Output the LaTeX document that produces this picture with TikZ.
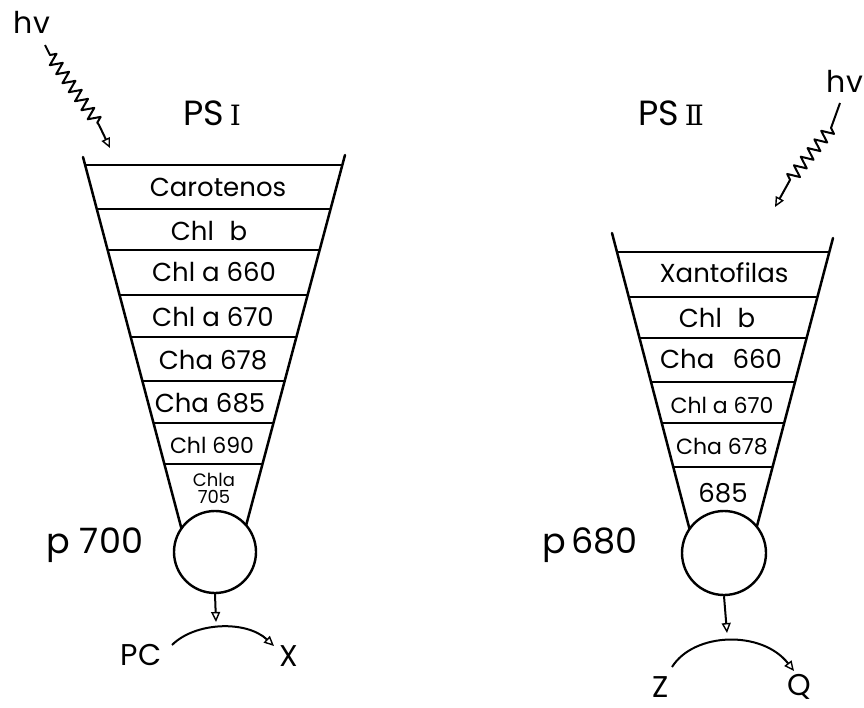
\documentclass[tikz,border=0pt]{standalone}
\usepackage{fontspec}
\setmainfont{Poppins}
\newfontfamily\romf{DejaVu Serif}
\usetikzlibrary{arrows.meta,decorations.pathmorphing}
\begin{document}
\begin{tikzpicture}[x=1pt,y=-1pt,
  lbl/.style={inner sep=0pt, font=\fontsize{26}{28}\selectfont},
  sml/.style={inner sep=0pt, font=\fontsize{22}{24}\selectfont},
  big/.style={inner sep=0pt, font=\fontsize{35}{38}\selectfont},
  side/.style={line width=2.5pt, line cap=round},
  rung/.style={line width=2.8pt},
  tipline/.style={-{Triangle[open,length=10pt,width=9pt,line width=1.4pt]}, line width=2pt, line join=round},
  wave/.style={decoration={zigzag,segment length=11pt,amplitude=6pt}},
  ring/.style={circle, draw, fill=white, line width=2.4pt, inner sep=0pt}
]
\useasboundingbox (0,0) rectangle (864,707);

% ---------------- PS I ----------------
\node[big, anchor=base] (hvA) at (32,33) {\fontsize{30}{32}\selectfont hv};
\coordinate (wA0) at (45,45);
\coordinate (wA1) at (50,55);
\coordinate (wA2) at (99,125);
\coordinate (wA3) at (110,148);
\draw[tipline] (wA0) -- (wA1) decorate[wave]{-- (wA2)} -- (wA3);

\node[big] (psI) at (212,113) {PS\,{\romf\fontsize{28}{30}\selectfont Ⅰ}};

% funnel sides
\draw[side] (83,157) -- (184.5,540);
\draw[side] (345,155) -- (242.2,540);
\foreach \y in {165,209,250,295,337,381,423,464}{
  \pgfmathsetmacro\xl{83+0.265*(\y-157)}
  \pgfmathsetmacro\xr{345-0.267*(\y-155)}
  \draw[rung] (\xl,\y) -- (\xr,\y);
}
\node[lbl] (a1) at (218,187) {Carotenos};
\node[lbl] (a2) at (209,231) {Chl\hspace{0.6em}b};
\node[lbl] (a3) at (214,272) {Chl a 660};
\node[lbl] (a4) at (213,317) {Chl a 670};
\node[lbl] (a5) at (213,360) {Cha 678};
\node[lbl] (a6) at (210,403) {Cha 685};
\node[sml] (a7) at (212,445) {Chl 690};
\node[inner sep=0pt, align=center, font=\fontsize{18}{17}\selectfont] (a8) at (214,488) {Chla\\705};

\node[ring, minimum size=82pt] (c1) at (215,552) {};
\node[big, anchor=base] (p700) at (95,553) {p 700};

\coordinate (t1) at (216,622);
\draw[tipline] (c1.south) -- (t1);
\node[inner sep=0pt, font=\fontsize{30}{32}\selectfont] (pc) at (141,655) {PC};
\node[inner sep=0pt, font=\fontsize{30}{32}\selectfont] (xx) at (289,656) {X};
\coordinate (arcA) at (172,645);
\coordinate (arcB) at (274,646);
\draw[tipline] (arcA) .. controls (195,622) and (246,620) .. (arcB);

% ---------------- PS II ----------------
\node[big, anchor=base] (hvB) at (845,92) {\fontsize{30}{32}\selectfont hv};
\coordinate (wB0) at (840,103);
\coordinate (wB1) at (831,128);
\coordinate (wB2) at (790,180);
\coordinate (wB3) at (775,207);
\draw[tipline] (wB0) -- (wB1) decorate[wave]{-- (wB2)} -- (wB3);

\node[big] (psII) at (671,113) {PS\,{\romf\fontsize{28}{30}\selectfont Ⅱ}};

\draw[side] (612,233) -- (692.4,540);
\draw[side] (833,238) -- (753.3,540);
\foreach \y in {252,297,338,382,423,467}{
  \pgfmathsetmacro\xl{612+0.262*(\y-233)}
  \pgfmathsetmacro\xr{833-0.264*(\y-238)}
  \draw[rung] (\xl,\y) -- (\xr,\y);
}
\node[lbl] (b1) at (724,273) {Xantofilas};
\node[lbl] (b2) at (717,318) {Chl\hspace{0.6em}b};
\node[lbl] (b3) at (721,359) {Cha\hspace{0.7em}660};
\node[sml] (b4) at (722,405) {Chl a 670};
\node[sml] (b5) at (722,447) {Cha 678};
\node[lbl] (b6) at (723,493) {685};

\node[ring, minimum size=84pt] (c2) at (724,553) {};
\node[big, anchor=base] (p680) at (590,553) {p\,680};

\coordinate (t2) at (727,633);
\draw[tipline] (c2.south) -- (t2);
\node[inner sep=0pt, font=\fontsize{30}{32}\selectfont] (zz) at (661,687) {Z};
\node[inner sep=0pt, font=\fontsize{30}{32}\selectfont] (qq) at (799,687) {Q};
\coordinate (arcC) at (672,667);
\coordinate (arcD) at (794,671);
\draw[tipline] (arcC) .. controls (694,632) and (762,630) .. (arcD);
\end{tikzpicture}
\end{document}
